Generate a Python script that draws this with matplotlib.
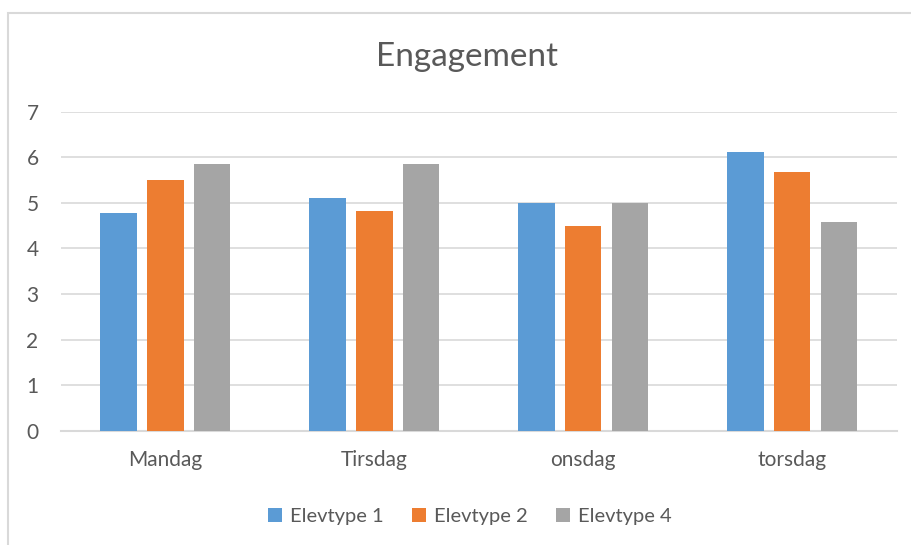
import matplotlib.pyplot as plt
import numpy as np
from matplotlib.patches import Rectangle

plt.rcParams['font.family'] = ['Lato', 'DejaVu Sans']

dage = ['Mandag', 'Tirsdag', 'onsdag', 'torsdag']
serier = ['Elevtype 1', 'Elevtype 2', 'Elevtype 4']
elevtype1 = [4.77, 5.11, 5.0, 6.11]
elevtype2 = [5.5, 4.83, 4.5, 5.67]
elevtype4 = [5.85, 5.85, 5.0, 4.57]
farver = ['#5B9BD5', '#ED7D31', '#A5A5A5']

tekst = '#595959'
gitter = '#D9D9D9'

fig = plt.figure(figsize=(9.12, 5.45), dpi=100)
ax = fig.add_axes([0.0666, 0.2097, 0.9166, 0.5853])

x = np.arange(len(dage))
bredde = 0.175
afstand = 0.223
for i, (navn, vaerdier) in enumerate(zip(serier, [elevtype1, elevtype2, elevtype4])):
    ax.bar(x + (i - 1) * afstand, vaerdier, bredde, color=farver[i], label=navn, zorder=3)

ax.set_xlim(-0.5, len(dage) - 0.5)
ax.set_ylim(0, 7)
ax.set_yticks(range(8))
ax.yaxis.grid(True, color=gitter, lw=1.2, zorder=0)
ax.set_xticks(x)
ax.set_xticklabels(dage)
ax.tick_params(axis='both', length=0, colors=tekst, labelsize=15)
ax.tick_params(axis='y', pad=16)
ax.tick_params(axis='x', pad=14)
for s in ['top', 'right', 'left']:
    ax.spines[s].set_visible(False)
ax.spines['bottom'].set_color(gitter)
ax.spines['bottom'].set_linewidth(1.5)

fig.text(0.512, 0.895, 'Engagement', ha='center', va='center', fontsize=24, color=tekst)

fig.legend(loc='center', bbox_to_anchor=(0.515, 0.053), ncol=3, frameon=False,
           fontsize=14.5, labelcolor=tekst, handlelength=0.7, handleheight=0.7,
           handletextpad=0.4, columnspacing=1.4)

# ramme omkring diagrammet
fig.patches.append(Rectangle((8.5 / 912, -0.1), 1.2, 1 - 13 / 545 + 0.1,
                             transform=fig.transFigure, fill=False,
                             edgecolor=gitter, lw=1.5))

fig.savefig('out.png', dpi=100)
